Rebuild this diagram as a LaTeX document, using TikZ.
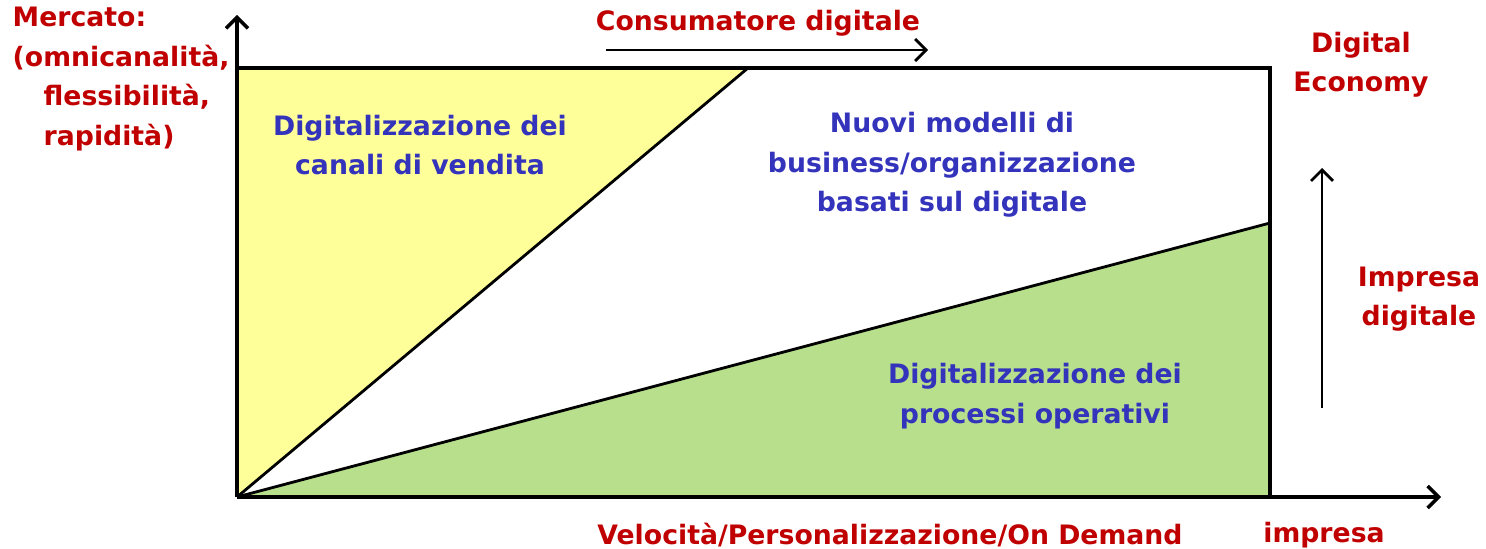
\documentclass[tikz,border=0pt]{standalone}
\usepackage{fontspec}
\setmainfont{DejaVu Sans}
\usetikzlibrary{arrows.meta}
\definecolor{labred}{HTML}{C00000}
\definecolor{labblue}{HTML}{3333BB}
\definecolor{areayellow}{HTML}{FFFF99}
\definecolor{areagreen}{HTML}{B8DF8C}
\begin{document}
\begin{tikzpicture}[
axis/.style={line width=1pt, -{Straight Barb[length=1.1mm, width=2.2mm]}},
frame/.style={line width=1.1pt},
split/.style={line width=0.8pt},
redlabel/.style={text=labred, font=\bfseries\fontsize{7.6}{11.2}\selectfont, align=center, inner sep=0pt},
bluelabel/.style={text=labblue, font=\bfseries\fontsize{7.6}{11.2}\selectfont, align=center, inner sep=0pt}
]
\useasboundingbox (0,0) rectangle (14.86,5.48);
%Coordinates
\coordinate (O)    at (2.37,0.51);
\coordinate (ytop) at (2.37,5.33);
\coordinate (xend) at (14.41,0.51);
\coordinate (tl)   at (2.37,4.80);
\coordinate (tr)   at (12.70,4.80);
\coordinate (br)   at (12.70,0.51);
\coordinate (ycut) at (7.48,4.80);
\coordinate (gcut) at (12.70,3.25);
\coordinate (cstart) at (6.06,4.98);
\coordinate (cend)   at (9.28,4.98);
\coordinate (istart) at (13.22,1.40);
\coordinate (iend)   at (13.22,3.80);
%Areas
\fill[areayellow] (O) -- (tl) -- (ycut) -- cycle;
\fill[areagreen]  (O) -- (gcut) -- (br) -- cycle;
%Lines
\draw[frame] (tl) -- (tr) -- (br);
\draw[split] (O) -- (ycut);
\draw[split] (O) -- (gcut);
\draw[axis] (O) -- (ytop);
\draw[axis] (O) -- (xend);
\draw[axis, line width=0.8pt] (cstart) -- (cend);
\draw[axis, line width=0.8pt] (istart) -- (iend);
%Nodes
\node[redlabel, anchor=west, align=left] (mercato) at (0.12,4.69)
  {Mercato:\\(omnicanalità,\\\hspace*{0.31cm}flessibilità,\\\hspace*{0.31cm}rapidità)};
\node[redlabel] (consumatore) at (7.58,5.25) {Consumatore digitale};
\node[redlabel] (economy)     at (13.61,4.83) {Digital\\Economy};
\node[redlabel] (impdig)      at (14.19,2.49) {Impresa\\digitale};
\node[redlabel] (velocita)    at (8.90,0.13) {Velocità/Personalizzazione/On Demand};
\node[redlabel] (impresa)     at (13.24,0.13) {impresa};
\node[bluelabel] (canali)     at (4.20,4.03) {Digitalizzazione dei\\canali di vendita};
\node[bluelabel] (modelli)    at (9.52,3.83) {Nuovi modelli di\\business/organizzazione\\basati sul digitale};
\node[bluelabel] (processi)   at (10.35,1.52) {Digitalizzazione dei\\processi operativi};
\end{tikzpicture}
\end{document}
